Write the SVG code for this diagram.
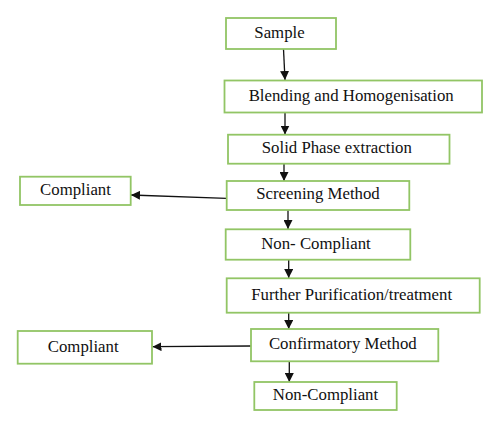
<svg xmlns="http://www.w3.org/2000/svg" width="500" height="428" viewBox="0 0 500 428">
<defs>
<style>
.box{fill:#fff;stroke:#92c565;stroke-width:1.8}
.lbl{font-family:"Liberation Serif","Times New Roman",serif;font-size:16.8px;fill:#111;text-anchor:middle}
.con{stroke:#111;stroke-width:1.3;fill:none;marker-end:url(#ah)}
</style>
<marker id="ah" viewBox="0 0 10 10" refX="10" refY="5" markerWidth="9" markerHeight="9" markerUnits="userSpaceOnUse" orient="auto">
<path d="M0,0 L10,5 L0,10 z" fill="#111"/>
</marker>
</defs>
<rect width="500" height="428" fill="#fff"/>
<g id="connectors">
<line class="con" x1="283.5" y1="49" x2="285" y2="80"/>
<line class="con" x1="285" y1="113" x2="285" y2="134.5"/>
<line class="con" x1="284" y1="164" x2="284" y2="181"/>
<line class="con" x1="226.5" y1="198.3" x2="131" y2="195"/>
<line class="con" x1="288" y1="210" x2="288" y2="229"/>
<line class="con" x1="288.7" y1="260" x2="288.7" y2="278"/>
<line class="con" x1="288.7" y1="313" x2="288.7" y2="329"/>
<line class="con" x1="251" y1="346" x2="152.5" y2="346.7"/>
<line class="con" x1="289.3" y1="361.5" x2="289.3" y2="382"/>
</g>
<g id="sample"><rect class="box" x="226" y="18" width="110" height="31"/><text class="lbl" x="279.5" y="37.5">Sample</text></g>
<g id="blending"><rect class="box" x="224.5" y="80.5" width="257.5" height="32"/><text class="lbl" x="351.2" y="101">Blending and Homogenisation</text></g>
<g id="spe"><rect class="box" x="228" y="134.7" width="221.5" height="29"/><text class="lbl" x="336.8" y="153.3">Solid Phase extraction</text></g>
<g id="screening"><rect class="box" x="226.7" y="181" width="182.6" height="29"/><text class="lbl" x="318" y="199.3">Screening Method</text></g>
<g id="compliant1"><rect class="box" x="20" y="176.7" width="110.7" height="28.3"/><text class="lbl" x="75.5" y="195">Compliant</text></g>
<g id="noncompliant1"><rect class="box" x="225.7" y="229.3" width="184.6" height="30.4"/><text class="lbl" x="316" y="249">Non- Compliant</text></g>
<g id="further"><rect class="box" x="226.7" y="278.3" width="253" height="34.4"/><text class="lbl" x="351.7" y="300">Further Purification/treatment</text></g>
<g id="confirmatory"><rect class="box" x="251" y="329" width="187.3" height="32.3"/><text class="lbl" x="342.8" y="349.3">Confirmatory Method</text></g>
<g id="compliant2"><rect class="box" x="17.7" y="331" width="134.3" height="32.7"/><text class="lbl" x="83.2" y="351.7">Compliant</text></g>
<g id="noncompliant2"><rect class="box" x="254.3" y="382" width="142.4" height="28"/><text class="lbl" x="325.5" y="400">Non-Compliant</text></g>
</svg>
